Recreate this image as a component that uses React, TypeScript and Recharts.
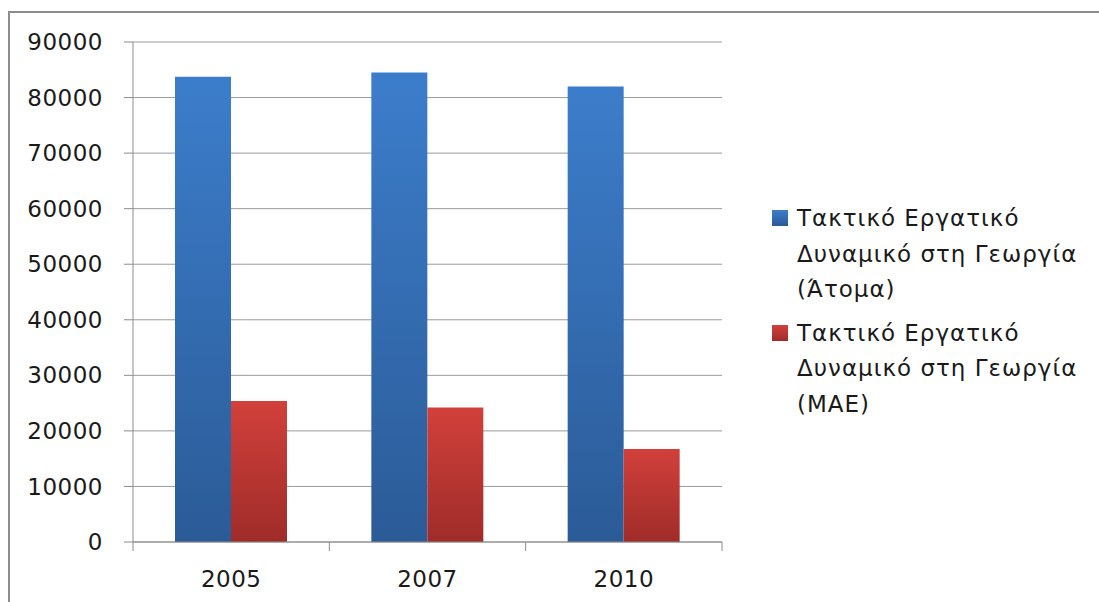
import React from "react";
import { BarChart, Bar, XAxis, YAxis, CartesianGrid } from "recharts";

const YEARS = ["2005", "2007", "2010"];
const PERSONS = [83750, 84500, 82000];
const AWU = [25400, 24200, 16750];
const Y_TICKS = [0, 10000, 20000, 30000, 40000, 50000, 60000, 70000, 80000, 90000];

const SERIES = [
  { key: "persons", name: "Τακτικό Εργατικό Δυναμικό στη Γεωργία (Άτομα)", top: "#3C7DCB", bottom: "#2B5B97" },
  { key: "awu",     name: "Τακτικό Εργατικό Δυναμικό στη Γεωργία (ΜΑΕ)",   top: "#D2403B", bottom: "#9F2C29" },
];

const data = YEARS.map((year, i) => ({ year, persons: PERSONS[i], awu: AWU[i] }));

const FONT = "'DejaVu Sans', sans-serif";
const AXIS = "#8c8c8c";
const PLOT_LEFT = 133;
const PLOT_RIGHT = 722;
const BAND = (PLOT_RIGHT - PLOT_LEFT) / YEARS.length;

function XTick(props: any) {
  const { x, y, payload, index } = props;
  const half = BAND / 2;
  return (
    <g>
      <line x1={x - half} x2={x - half} y1={y} y2={y + 9} stroke={AXIS} />
      {index === YEARS.length - 1 && (
        <line x1={x + half} x2={x + half} y1={y} y2={y + 9} stroke={AXIS} />
      )}
      <text x={x} y={y + 45} textAnchor="middle" fill="#1a1a1a"
        style={{ fontFamily: FONT, fontSize: 23, letterSpacing: 0.5 }}>
        {payload.value}
      </text>
    </g>
  );
}

export default function App() {
  return (
    <div style={{ position: "fixed", left: 0, top: 0, width: 1099, height: 602, overflow: "hidden", background: "#fff" }}>
      {/* outer frame, only top and left edges visible */}
      <div style={{ position: "absolute", left: 8, top: 11, width: 1300, height: 800, border: "2px solid #8d8d8d" }} />

      <div style={{ position: "absolute", left: 0, top: 0 }}>
        <BarChart width={1099} height={602} data={data}
          margin={{ top: 42, right: 1099 - PLOT_RIGHT, bottom: 0, left: 0 }}
          barGap={0} barSize={56}>
          <defs>
            {SERIES.map((s) => (
              <linearGradient key={s.key} id={`g-${s.key}`} x1="0" y1="0" x2="0" y2="1">
                <stop offset="0%" stopColor={s.top} />
                <stop offset="100%" stopColor={s.bottom} />
              </linearGradient>
            ))}
          </defs>
          <CartesianGrid vertical={false} stroke="#9a9a9a" />
          <XAxis dataKey="year" height={60} stroke={AXIS} tickLine={false}
            tickSize={0} tickMargin={0} tick={<XTick />} />
          <YAxis width={PLOT_LEFT} domain={[0, 90000]} ticks={Y_TICKS} interval={0}
            stroke={AXIS} tickSize={9} tickMargin={21}
            tick={{ fill: "#1a1a1a", fontSize: 23, fontFamily: FONT, letterSpacing: 0.5 }} />
          {SERIES.map((s) => (
            <Bar key={s.key} dataKey={s.key} name={s.name} fill={`url(#g-${s.key})`}
              isAnimationActive={false} />
          ))}
        </BarChart>
      </div>

      {/* legend */}
      <div style={{ position: "absolute", left: 772, top: 201, width: 320, fontFamily: FONT, fontSize: 23,
        letterSpacing: 1, color: "#1a1a1a", lineHeight: "35.5px" }}>
        {SERIES.map((s) => (
          <div key={s.key} style={{ position: "relative", paddingLeft: 25, marginBottom: 8 }}>
            <span style={{ position: "absolute", left: 0, top: 9, width: 16, height: 16,
              background: `linear-gradient(${s.top}, ${s.bottom})` }} />
            {s.name}
          </div>
        ))}
      </div>
    </div>
  );
}
